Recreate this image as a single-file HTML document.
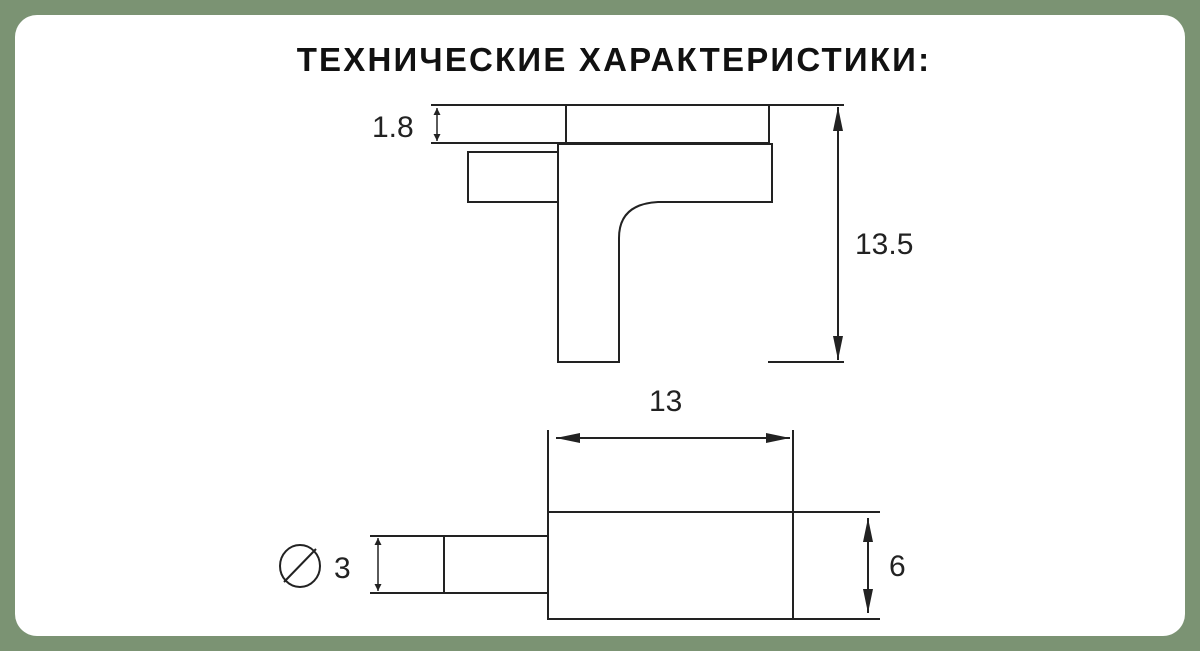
<!DOCTYPE html>
<html><head><meta charset="utf-8"><style>
html,body{margin:0;padding:0;}
body{width:1200px;height:651px;background:#7b9373;position:relative;overflow:hidden;font-family:"Liberation Sans",sans-serif;}
.card{position:absolute;left:15px;top:15px;width:1170px;height:621px;background:#fff;border-radius:22px;}
.title{position:absolute;left:14px;width:1200px;top:41px;text-align:center;font-weight:bold;font-size:33px;color:#111;letter-spacing:2.2px;}
svg{position:absolute;left:0;top:0;}
</style></head><body>
<div class="card"></div>
<div class="title">ТЕХНИЧЕСКИЕ ХАРАКТЕРИСТИКИ:</div>
<svg width="1200" height="651" viewBox="0 0 1200 651">
<defs>
<marker id="a" viewBox="0 0 10 10" refX="10" refY="5" markerWidth="7" markerHeight="7" orient="auto-start-reverse" markerUnits="userSpaceOnUse"><path d="M0,0L10,5L0,10z" fill="#222"/></marker>
<marker id="b" viewBox="0 0 24 10" refX="24" refY="5" markerWidth="24" markerHeight="10" orient="auto-start-reverse" markerUnits="userSpaceOnUse"><path d="M0,0L24,5L0,10z" fill="#222"/></marker>
</defs>
<g stroke="#222" stroke-width="2" fill="none">
<line x1="431" y1="105" x2="844" y2="105"/>
<line x1="431" y1="143" x2="566" y2="143"/>
<rect x="566" y="105" width="203" height="38"/>
<path d="M558,144 H772 V202 H658 Q619,204 619,238 V362 H558 Z"/>
<path d="M558,152 H468 V202 H558"/>
<line x1="768" y1="362" x2="844" y2="362"/>
<line x1="838" y1="107" x2="838" y2="360" marker-start="url(#b)" marker-end="url(#b)"/>
<line x1="437" y1="108" x2="437" y2="141" stroke-width="1.5" marker-start="url(#a)" marker-end="url(#a)"/>
<rect x="548" y="512" width="245" height="107"/>
<line x1="548" y1="430" x2="548" y2="512"/>
<line x1="793" y1="430" x2="793" y2="512"/>
<line x1="793" y1="512" x2="880" y2="512"/>
<line x1="793" y1="619" x2="880" y2="619"/>
<line x1="556" y1="438" x2="790" y2="438" marker-start="url(#b)" marker-end="url(#b)"/>
<line x1="868" y1="518" x2="868" y2="613" marker-start="url(#b)" marker-end="url(#b)"/>
<line x1="370" y1="536" x2="548" y2="536"/>
<line x1="370" y1="593" x2="548" y2="593"/>
<line x1="444" y1="536" x2="444" y2="593"/>
<line x1="378" y1="538" x2="378" y2="591" stroke-width="1.5" marker-start="url(#a)" marker-end="url(#a)"/>
<ellipse cx="300" cy="566" rx="20" ry="21"/>
<line x1="284" y1="582" x2="316" y2="549"/>
</g>
<g font-family="Liberation Sans, sans-serif" fill="#222" font-size="30">
<text x="372" y="137">1.8</text>
<text x="855" y="254">13.5</text>
<text x="649" y="411">13</text>
<text x="889" y="576">6</text>
<text x="334" y="578">3</text>
</g>
</svg>
</body></html>
